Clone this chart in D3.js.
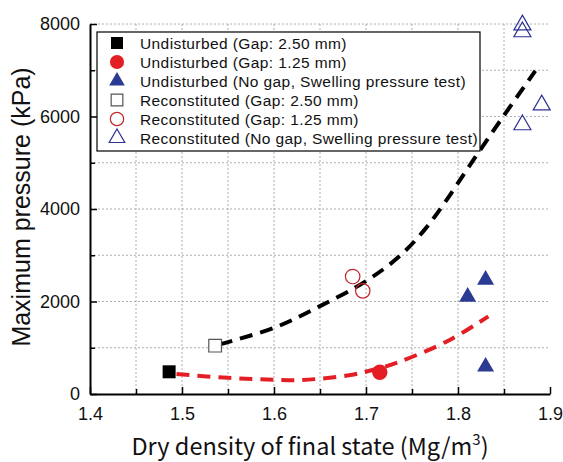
<!DOCTYPE html>
<html>
<head>
<meta charset="utf-8">
<script src="https://cdn.jsdelivr.net/npm/d3@7"></script>
<style>
  body { margin: 0; background: #fff; }
  svg { display: block; }
</style>
</head>
<body>
<svg class="scatter" width="563" height="462"></svg>
<script>
// measured points, [dry density, max pressure]
const undisturbed250 = [[1.486, 480]];
const undisturbed125 = [[1.715, 470]];
const undisturbedNoGap = [[1.8105, 2100], [1.830, 2470], [1.830, 590]];
const reconstituted250 = [[1.536, 1045]];
const reconstituted125 = [[1.6855, 2540], [1.6965, 2230]];
const reconstitutedNoGap = [[1.870, 7980], [1.870, 7830], [1.891, 6250], [1.870, 5820]];

// trend lines
const trendUpper = [[1.541, 1075], [1.60, 1430], [1.65, 1900], [1.70, 2440], [1.737, 2990],
                    [1.764, 3560], [1.786, 4150], [1.813, 4950], [1.849, 5995], [1.884, 6985]];
const trendLower = [[1.494, 430], [1.55, 350], [1.60, 310], [1.63, 303], [1.683, 410],
                    [1.715, 560], [1.737, 700], [1.791, 1168], [1.833, 1680]];

const legendLabels = [
    "Undisturbed (Gap: 2.50 mm)",
    "Undisturbed (Gap: 1.25 mm)",
    "Undisturbed (No gap, Swelling pressure test)",
    "Reconstituted (Gap: 2.50 mm)",
    "Reconstituted (Gap: 1.25 mm)",
    "Reconstituted (No gap, Swelling pressure test)"
];

const xMajor = [1.4, 1.5, 1.6, 1.7, 1.8, 1.9];
const xMinor = [1.45, 1.55, 1.65, 1.75, 1.85];
const yMajor = [0, 2000, 4000, 6000, 8000];
const yMinor = [1000, 3000, 5000, 7000];

(function scatterIFFE(){
    var svg = d3.select("svg.scatter");
    var x = d3.scaleLinear().domain([1.4, 1.9]).range([90, 550]);
    var y = d3.scaleLinear().domain([0, 8000]).range([394, 24]);

    var styles = [
        {shape: d3.symbolSquare, size: 169, fill: "#000", stroke: "none"},
        {shape: d3.symbolCircle, size: 185, fill: "#e31e24", stroke: "none"},
        {shape: d3.symbolTriangle, size: 125, fill: "#2b3a93", stroke: "none"},
        {shape: d3.symbolSquare, size: 160, fill: "#fff", stroke: "#555"},
        {shape: d3.symbolCircle, size: 165, fill: "none", stroke: "#c0272d"},
        {shape: d3.symbolTriangle, size: 125, fill: "none", stroke: "#2e3192"}
    ];
    var groups = [undisturbed250, undisturbed125, undisturbedNoGap,
                  reconstituted250, reconstituted125, reconstitutedNoGap];

    // grid
    var grid = svg.append("g").attr("stroke", "#9a9a9a").attr("stroke-width", 0.8)
        .attr("stroke-dasharray", "2,2");
    grid.selectAll(".vx").data(xMajor.slice(1, -1).concat(xMinor)).enter().append("line")
        .attr("x1", d => x(d)).attr("x2", d => x(d))
        .attr("y1", y(8000)).attr("y2", y(0));
    grid.selectAll(".hy").data(yMajor.slice(1).concat(yMinor)).enter().append("line")
        .attr("x1", x(1.4)).attr("x2", x(1.9))
        .attr("y1", d => y(d)).attr("y2", d => y(d));

    // axes
    svg.append("g")
        .attr("transform", "translate(0," + y(0) + ")")
        .call(d3.axisBottom(x).tickValues(xMajor).tickFormat(d3.format(".1f"))
            .tickSizeInner(-7).tickSizeOuter(0).tickPadding(13));
    svg.append("g")
        .attr("transform", "translate(0," + y(0) + ")")
        .call(d3.axisBottom(x).tickValues(xMinor).tickFormat("").tickSizeInner(-5).tickSizeOuter(0))
        .select(".domain").remove();
    svg.append("g")
        .attr("transform", "translate(" + x(1.4) + ",0)")
        .call(d3.axisLeft(y).tickValues(yMajor).tickFormat(d3.format("d"))
            .tickSizeInner(-7).tickSizeOuter(0).tickPadding(10));
    svg.append("g")
        .attr("transform", "translate(" + x(1.4) + ",0)")
        .call(d3.axisLeft(y).tickValues(yMinor).tickFormat("").tickSizeInner(-5).tickSizeOuter(0))
        .select(".domain").remove();
    svg.selectAll(".tick line").attr("stroke", "#000").attr("stroke-width", 1.5);
    svg.selectAll(".domain").attr("stroke", "#000").attr("stroke-width", 2);
    svg.selectAll(".tick text").attr("font-family", "'Liberation Sans', Arial, sans-serif")
        .attr("font-size", 18).attr("fill", "#111");

    // trend lines
    var line = d3.line().x(d => x(d[0])).y(d => y(d[1])).curve(d3.curveCatmullRom.alpha(0.5));
    svg.append("path").datum(trendUpper)
        .attr("fill", "none").attr("stroke", "#000").attr("stroke-width", 4)
        .attr("stroke-dasharray", "13,8").attr("d", line);
    svg.append("path").datum(trendLower)
        .attr("fill", "none").attr("stroke", "#e31e24").attr("stroke-width", 4)
        .attr("stroke-dasharray", "13,8").attr("d", line);

    // points
    groups.forEach(function(pts, i) {
        var s = styles[i];
        svg.append("g").selectAll("path").data(pts).enter().append("path")
            .attr("transform", d => "translate(" + x(d[0]) + "," + y(d[1]) + ")")
            .attr("d", d3.symbol().type(s.shape).size(s.size))
            .attr("fill", s.fill).attr("stroke", s.stroke).attr("stroke-width", 1.2);
    });

    // legend
    var lg = svg.append("g");
    lg.append("rect").attr("x", 97).attr("y", 32).attr("width", 383).attr("height", 119)
        .attr("fill", "#fff").attr("stroke", "#000").attr("stroke-width", 1.2);
    legendLabels.forEach(function(label, i) {
        var s = styles[i], cy = 43 + i * 19;
        lg.append("path")
            .attr("transform", "translate(117," + cy + ")")
            .attr("d", d3.symbol().type(s.shape).size(s.size * 0.85))
            .attr("fill", s.fill).attr("stroke", s.stroke).attr("stroke-width", 1.2);
        lg.append("text").attr("x", 140).attr("y", cy + 5.5)
            .attr("font-family", "'Liberation Sans', Arial, sans-serif").attr("font-size", 15.5)
            .attr("letter-spacing", 0.4)
            .attr("fill", "#111").text(label);
    });

    // axis titles
    svg.append("text")
        .attr("transform", "translate(30,207) rotate(-90)")
        .attr("text-anchor", "middle")
        .attr("font-family", "'Liberation Sans', Arial, sans-serif").attr("font-size", 25)
        .attr("fill", "#111").text("Maximum pressure (kPa)");
    var xt = svg.append("text")
        .attr("x", 310).attr("y", 455).attr("text-anchor", "middle")
        .attr("font-family", "'Noto Sans CJK JP', sans-serif").attr("font-size", 23.5)
        .attr("fill", "#111");
    xt.append("tspan").text("Dry density of final state (Mg/m");
    xt.append("tspan").attr("font-size", 15).attr("dy", -10).text("3");
    xt.append("tspan").attr("dy", 10).text(")");
})();
</script>
</body>
</html>
